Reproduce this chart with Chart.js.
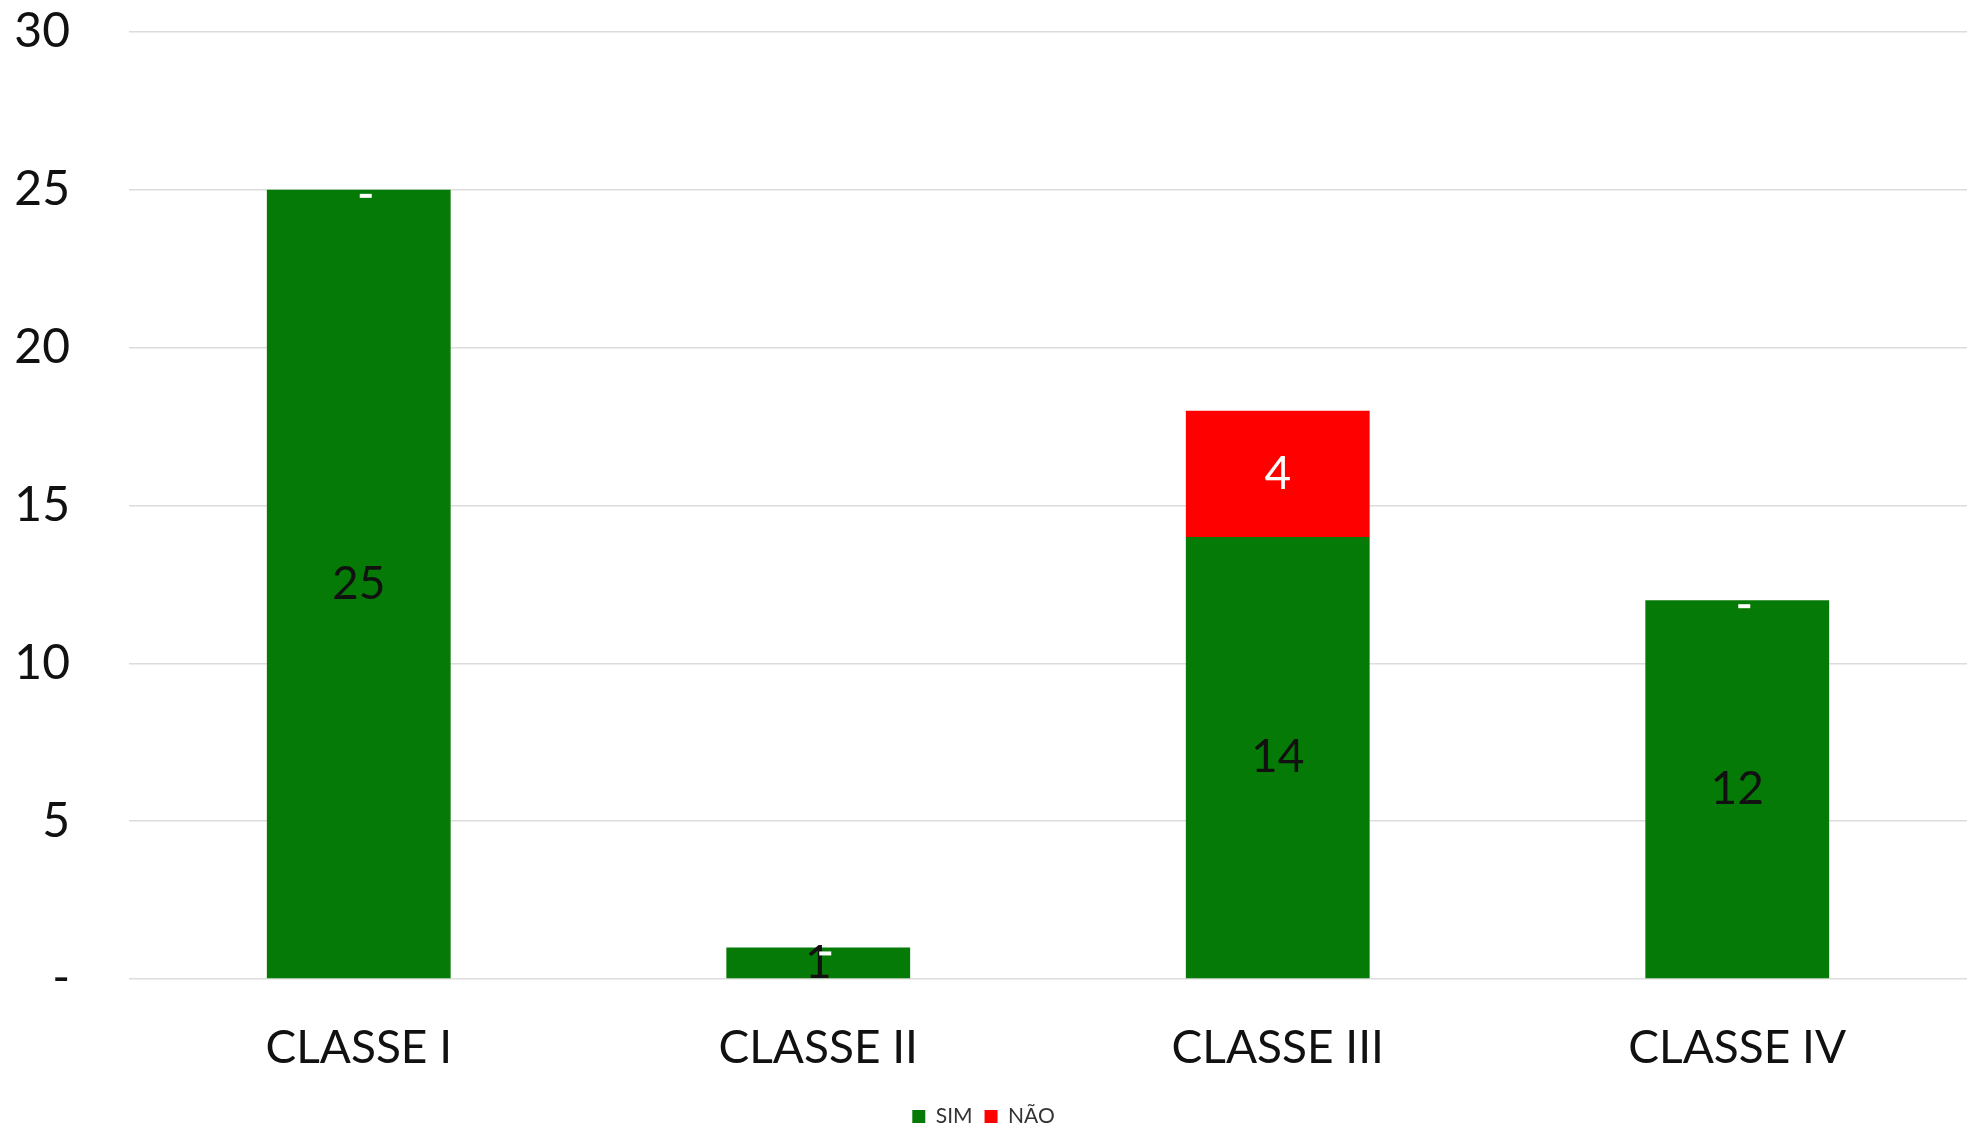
<!DOCTYPE html>
<html>
<head>
<meta charset="utf-8">
<script src="https://cdn.jsdelivr.net/npm/chart.js@4"></script>
<style>
  html, body { margin: 0; padding: 0; background: #fff; }
  #wrap { width: 1986px; height: 1129px; }
</style>
</head>
<body>
<div id="wrap"><canvas id="classchart"></canvas></div>
<script>
var categories = ['CLASSE I', 'CLASSE II', 'CLASSE III', 'CLASSE IV']
var simValues = [25, 1, 14, 12]
var naoValues = [0, 0, 4, 0]
var seriesNames = ['SIM', 'NÃO']

var fontName = 'Lato, "Open Sans", sans-serif'

// rotulos no meio das barras, "-" branco para zero (como no Excel)
var barLabels = {
    id: 'barLabels',
    afterDatasetsDraw: function (chart) {
        var ctx = chart.ctx
        chart.data.datasets.forEach(function (ds, i) {
            var meta = chart.getDatasetMeta(i)
            meta.data.forEach(function (bar, j) {
                var v = ds.data[j]
                ctx.save()
                ctx.textAlign = 'center'
                ctx.textBaseline = 'middle'
                if (v > 0) {
                    ctx.fillStyle = ds.labelColor
                    ctx.font = '46px ' + fontName
                    ctx.fillText(String(v), bar.x, (bar.y + bar.base) / 2)
                } else {
                    ctx.fillStyle = '#ffffff'
                    ctx.fillRect(bar.x + 1, bar.y + 4, 12, 4)
                }
                ctx.restore()
            })
        })
    }
}

var ctx = document.getElementById('classchart').getContext('2d')
var chart = new Chart(ctx, {
    type: 'bar',
    data: {
        labels: categories,
        datasets: [
            { label: seriesNames[0], data: simValues, backgroundColor: '#067a06', labelColor: '#111111' },
            { label: seriesNames[1], data: naoValues, backgroundColor: '#ff0000', labelColor: '#ffffff' }
        ]
    },
    options: {
        responsive: true,
        maintainAspectRatio: false,
        devicePixelRatio: 1,
        animation: false,
        layout: { padding: { top: 0, right: 19, left: 0, bottom: -8 } },
        plugins: {
            tooltip: { enabled: false },
            legend: {
                position: 'bottom',
                labels: {
                    boxWidth: 13,
                    boxHeight: 13,
                    padding: 12,
                    color: '#333333',
                    font: { family: fontName, size: 21 }
                }
            }
        },
        scales: {
            x: {
                stacked: true,
                grid: { display: false },
                border: { display: false },
                ticks: {
                    color: '#111111',
                    padding: 34,
                    font: { family: fontName, size: 46 }
                },
                afterFit: function (scale) { scale.height = 115 }
            },
            y: {
                stacked: true,
                min: 0,
                max: 30,
                border: { display: false },
                grid: { color: '#dcdcdc', lineWidth: 1.5, drawTicks: false },
                ticks: {
                    stepSize: 5,
                    color: '#111111',
                    padding: 59,
                    font: { family: fontName, size: 48 },
                    callback: function (v) { return v === 0 ? '-' : v }
                },
                afterFit: function (scale) {
                    scale.width = 129
                    scale.paddingTop = 32
                    scale.paddingBottom = 0
                }
            }
        },
        datasets: {
            bar: { categoryPercentage: 1.0, barPercentage: 0.4 }
        }
    },
    plugins: [barLabels]
})
</script>
</body>
</html>
